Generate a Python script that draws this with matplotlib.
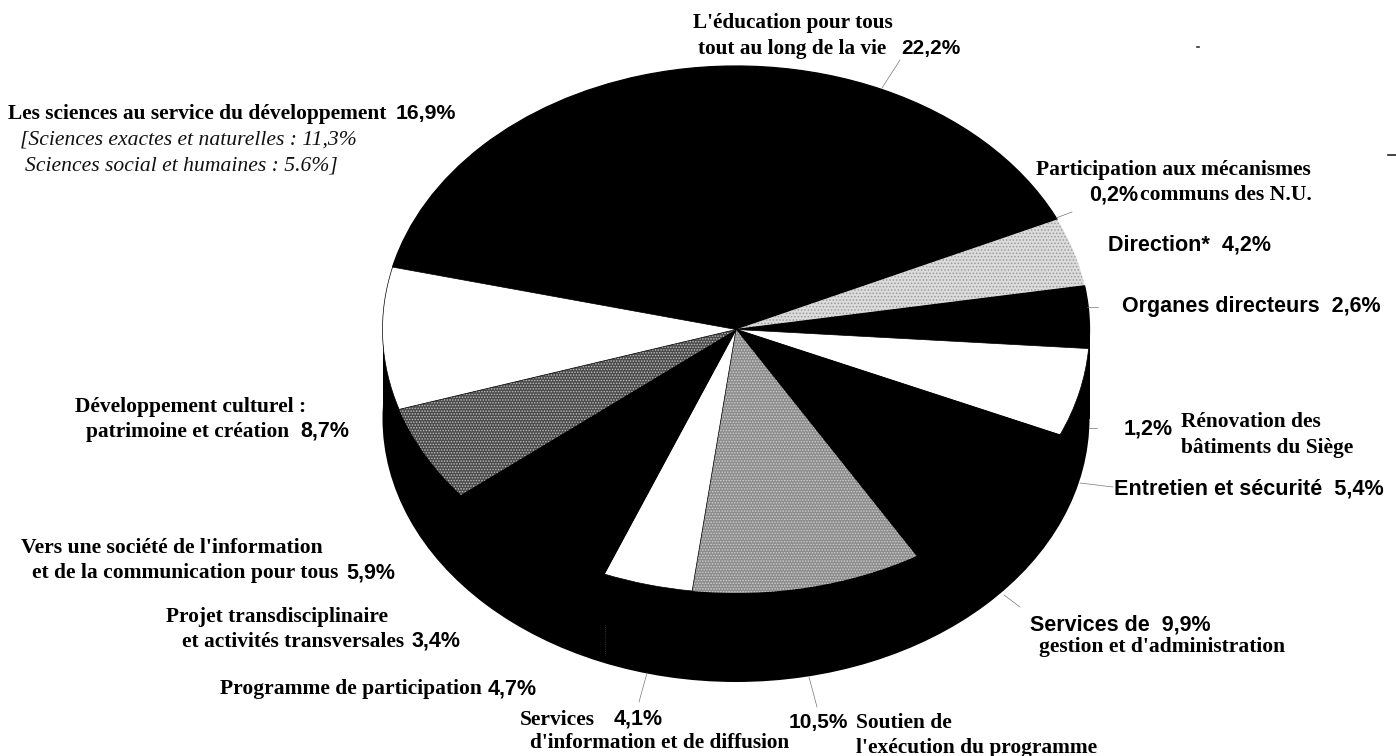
import matplotlib
matplotlib.use("Agg")
import matplotlib.pyplot as plt
from matplotlib.patches import Rectangle

W, H = 1396, 756
plt.rcParams['hatch.linewidth'] = 0.7

# data (clockwise from the left edge of the "sciences" slice)
slice_names = ["Sciences", "Education", "Participation N.U.", "Direction", "Organes directeurs",
               "Renovation", "Entretien", "Gestion", "Soutien", "Information",
               "Participation", "Projet", "Societe info", "Culture"]
slice_values = [16.9, 22.2, 0.2, 4.2, 2.6, 1.2, 5.4, 9.9, 10.5, 4.1, 4.7, 3.4, 5.9, 8.7]
slice_colors = ["#000000", "#000000", "#000000", "#dcdcdc", "#000000", "#000000", "#ffffff",
                "#000000", "#8c8c8c", "#ffffff", "#000000", "#000000", "#4a4a4a", "#ffffff"]
slice_hatch = [None, None, None, ".....", None, None, None, None, "......", None, None, None, "......", None]
slice_hatch_col = [None, None, None, "#9a9a9a", None, None, None, None, "#d0d0d0", None, None, None, "#c0c0c0", None]

CX, CY, RX, RY, DEPTH = 736, 329.5, 353.5, 263.5, 89
START = 166.3

fig = plt.figure(figsize=(W / 100, H / 100), dpi=100, facecolor="white")
ax = fig.add_axes([(CX - RX) / W, 1 - (CY + RY) / H, 2 * RX / W, 2 * RY / H])

# side of the drum: one solid ellipse joined to the top face
d = DEPTH / RY
side, _ = ax.pie([sum(slice_values)], colors=["black"], center=(0, -d), radius=1,
                 frame=True, wedgeprops=dict(linewidth=0))
ax.add_patch(Rectangle((-1, -d), 2, d, facecolor="black", edgecolor="none"))
# top face
wedges, _ = ax.pie(slice_values, colors=slice_colors, center=(0, 0), radius=1,
                   startangle=START, counterclock=False, frame=True,
                   wedgeprops=dict(linewidth=0))
for w, col, h, hc in zip(wedges, slice_colors, slice_hatch, slice_hatch_col):
    if h:
        w.set_hatch(h)
        w.set_edgecolor(hc)
        w.set_linewidth(0)
    elif col == "#000000":
        w.set_edgecolor("black")
        w.set_linewidth(0.9)
    else:
        w.set_edgecolor("black")
        w.set_linewidth(0.5)
for w in ax.patches:
    w.set_clip_on(False)
ax.set_aspect("auto")
ax.set_xlim(-1, 1)
ax.set_ylim(-1, 1)
ax.axis("off")

# overlay in image pixels for labels and leaders
ov = fig.add_axes([0, 0, 1, 1], facecolor="none")
ov.set_xlim(0, W)
ov.set_ylim(H, 0)
ov.axis("off")

SER = "Liberation Serif"
SAN = "Liberation Sans"

# left x, baseline y, text, family, size
labels = [
    (693, 28, "L'éducation pour tous", SER, 15.3),
    (698, 54, "tout au long de la vie", SER, 15.3),
    (901, 54, "22,2%", SAN, 15),
    (8, 119, "Les sciences au service du développement", SER, 15.4),
    (396, 119, "16,9%", SAN, 15.3),
    (1036, 175, "Participation aux mécanismes", SER, 15.5),
    (1089, 200, "0,2%", SAN, 15.5),
    (1140, 200, "communs des N.U.", SER, 15.6),
    (1108, 251, "Direction*  4,2%", SAN, 15.5),
    (1122, 312, "Organes directeurs  2,6%", SAN, 15.5),
    (1124, 435, "1,2%", SAN, 15.5),
    (1181, 427, "Rénovation des", SER, 15.4),
    (1181, 453, "bâtiments du Siège", SER, 15.4),
    (1114, 494, "Entretien et sécurité  5,4%", SAN, 15.6),
    (1030, 630, "Services de  9,9%", SAN, 15.5),
    (1039, 652, "gestion et d'administration", SER, 15.5),
    (789, 728, "10,5%", SAN, 15),
    (856, 728, "Soutien de", SER, 15.4),
    (856, 753, "l'exécution du programme", SER, 15.4),
    (520, 725, "Services", SER, 15.5),
    (614, 725, "4,1%", SAN, 15.5),
    (530, 748, "d'information et de diffusion", SER, 15.3),
    (220, 694, "Programme de participation", SER, 15.5),
    (488, 694, "4,7%", SAN, 15.5),
    (166, 622, "Projet transdisciplinaire", SER, 15.4),
    (182, 647, "et activités transversales", SER, 15.4),
    (412, 647, "3,4%", SAN, 15.5),
    (21, 553, "Vers une société de l'information", SER, 15.6),
    (32, 578, "et de la communication pour tous", SER, 15.5),
    (346, 578, "5,9%", SAN, 15.5),
    (75, 412, "Développement culturel :", SER, 15.5),
    (86, 437, "patrimoine et création", SER, 15.4),
    (300, 437, "8,7%", SAN, 15.5),
]
for x, y, s, fam, size in labels:
    ov.text(x, y, s, family=fam, fontsize=size, weight="bold",
            ha="left", va="baseline", color="black")

notes = [
    (20, 144, "[Sciences exactes et naturelles : 11,3%"),
    (25, 170, "Sciences social et humaines : 5.6%]"),
]
for x, y, s in notes:
    ov.text(x, y, s, family=SER, fontsize=15.6, style="italic", ha="left", va="baseline", color="#111111")

leaders = [
    ((882, 900), (88, 60)),
    ((1056, 1072), (218, 212)),
    ((1087, 1098), (307, 307)),
    ((1089, 1097), (428, 428)),
    ((1080, 1113), (483, 487)),
    ((1004, 1020), (595, 607)),
    ((809, 817), (677, 707)),
    ((647, 639), (673, 702)),
]
for xs, ys in leaders:
    ov.plot(xs, ys, color="#777777", lw=0.5)

# scanning specks
ov.plot([1197, 1199], [47, 47], color="#333333", lw=1.2)
ov.plot([1388, 1396], [155, 155], color="#222222", lw=1.2)
ov.plot([605, 605], [625, 655], color="#555555", lw=0.5, ls=":")

fig.savefig("out.png", dpi=100, facecolor="white")
